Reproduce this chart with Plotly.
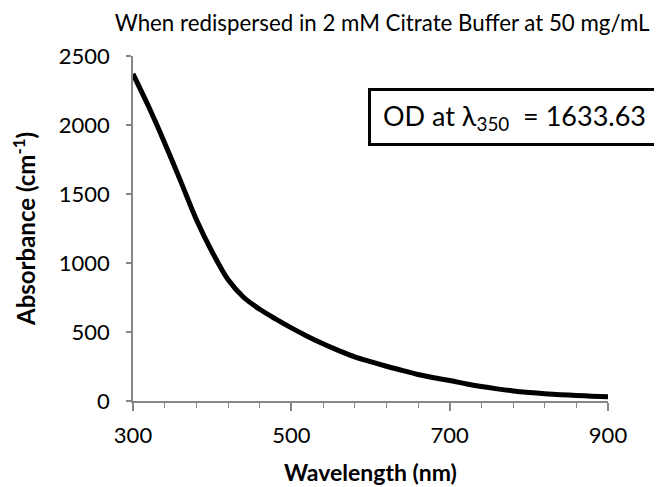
import plotly.graph_objects as go

wavelength = [300, 320, 340, 360, 380, 400, 420, 440, 460, 480, 500, 520, 540, 560,
              580, 600, 620, 640, 660, 680, 700, 720, 740, 760, 780, 800, 820, 840, 860, 880, 900]
absorbance = [2370, 2130, 1870, 1595, 1315, 1080, 880, 750, 665, 595, 530, 470, 415, 365,
              320, 285, 252, 222, 192, 168, 148, 125, 105, 88, 73, 62, 53, 46, 40, 35, 30]

title_text = "When redispersed in 2 mM Citrate Buffer at 50 mg/mL"
x_title = "Wavelength (nm)"
y_title = "Absorbance (cm<sup>-1</sup>)"
od_label = "OD at λ<sub>350</sub>  = 1633.63"
x_ticks = [300, 500, 700, 900]
y_ticks = [0, 500, 1000, 1500, 2000, 2500]

FONT = "Lato"
AX = "#868686"

fig = go.Figure()
fig.add_trace(go.Scatter(x=wavelength, y=absorbance, mode="lines",
                         line=dict(color="black", width=5, shape="spline", smoothing=0.8),
                         showlegend=False, hoverinfo="skip"))

fig.update_layout(
    width=654, height=479,
    margin=dict(l=125, r=54, t=48, b=86),
    paper_bgcolor="white", plot_bgcolor="white",
    font=dict(family=FONT, color="black", size=22),
    title=dict(text=title_text, x=0.572, xanchor="center", y=0.985, yanchor="top",
               font=dict(family=FONT, size=22.3, color="black")),
    xaxis=dict(range=[300, 900], tickvals=x_ticks, ticks="outside", ticklen=8, tickwidth=1.5,
               tickcolor=AX, showline=True, linecolor=AX, linewidth=1.5, showgrid=False,
               zeroline=False, tickfont=dict(size=22), ticklabelstandoff=6, automargin=False,
               minor=dict(dtick=40, tick0=300, ticks="outside", ticklen=5, tickcolor=AX, tickwidth=1.2),
               title=dict(text="<b>" + x_title + "</b>", font=dict(size=23), standoff=18)),
    yaxis=dict(range=[0, 2500], tickvals=y_ticks, ticks="outside", ticklen=5, tickwidth=1.5,
               tickcolor=AX, showline=True, linecolor=AX, linewidth=1.5, showgrid=False,
               zeroline=False, tickfont=dict(size=22), ticklabelstandoff=12, automargin=False,
               title=dict(text="<b>" + y_title + "</b>", font=dict(size=24), standoff=19)),
    annotations=[dict(text=od_label, xref="paper", yref="paper", x=0.804, y=0.8246,
                      xanchor="center", yanchor="middle", showarrow=False,
                      font=dict(family=FONT, size=27, color="black"),
                      bordercolor="black", borderwidth=3, borderpad=0,
                      bgcolor="white", width=287, height=52)],
)

fig.write_html("out.html")
